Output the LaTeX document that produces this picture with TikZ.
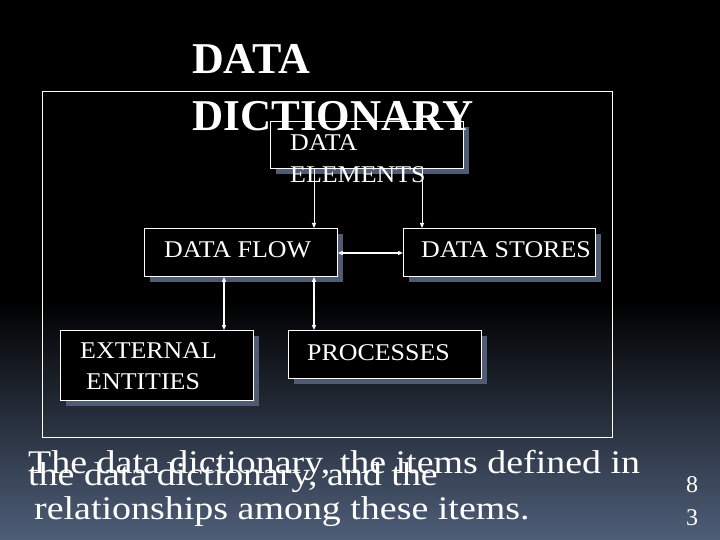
\documentclass[tikz,border=0pt]{standalone}
\usepackage{fontspec}
\setmainfont{Liberation Serif}
\usetikzlibrary{arrows.meta}
\definecolor{bgb}{RGB}{78,94,120}
\definecolor{shad}{RGB}{80,92,115}
\begin{document}
\begin{tikzpicture}[x=1pt,y=-1pt,
  box/.style={draw=white,line width=0.8pt,fill=black,minimum width=192pt,inner sep=0pt},
  lbl/.style={text=white,anchor=base west,inner sep=0pt},
  arr/.style={draw=white,line width=0.8pt,-{Triangle[width=4pt,length=5pt]}},
  darr/.style={draw=white,line width=1.2pt,{Triangle[width=4pt,length=5pt]}-{Triangle[width=4pt,length=5pt]}}]
\useasboundingbox (0,0) rectangle (720,540);
\fill[black] (0,0) rectangle (720,300);
\shade[top color=black,bottom color=bgb] (0,299.5) rectangle (720,540);
\draw[white,line width=0.6pt] (42,91) rectangle (612,437);
% shadows
\foreach \a/\b/\c/\d in {270/121/463/168, 144/228/337/276, 403/228/595/276, 60/330/253/400, 288/330/481/378}
  \fill[shad] (\a+6,\b+6) rectangle (\c+6,\d+6);
\node[box,minimum width=193pt,minimum height=47pt,anchor=north west] (el) at (270,121) {};
\node[box,minimum width=193pt,minimum height=48pt,anchor=north west] (df) at (144,228) {};
\node[box,minimum width=192pt,minimum height=48pt,anchor=north west] (ds) at (403,228) {};
\node[box,minimum width=193pt,minimum height=70pt,anchor=north west] (ee) at (60,330) {};
\node[box,minimum width=193pt,minimum height=48pt,anchor=north west] (pr) at (288,330) {};
% title
\node[lbl,font=\bfseries\fontsize{44}{44}\selectfont] (t1) at (192,74) {DATA};
\node[lbl,font=\bfseries\fontsize{44}{44}\selectfont] (t2) at (192,131) {\scalebox{0.98}[1]{DICTIONARY}};
% labels
\node[lbl,font=\fontsize{24}{24}\selectfont] (l1) at (290,151) {\scalebox{1.08}[1]{DATA}};
\node[lbl,font=\fontsize{24}{24}\selectfont] (l2) at (290,183) {\scalebox{1.08}[1]{ELEMENTS}};
\node[lbl,font=\fontsize{24}{24}\selectfont] (l3) at (164,258) {\scalebox{1.08}[1]{DATA FLOW}};
\node[lbl,font=\fontsize{24}{24}\selectfont] (l4) at (421,258) {\scalebox{1.08}[1]{DATA STORES}};
\node[lbl,font=\fontsize{24}{24}\selectfont] (l5) at (80,358) {\scalebox{1.08}[1]{EXTERNAL}};
\node[lbl,font=\fontsize{24}{24}\selectfont] (l6) at (86,389) {\scalebox{1.08}[1]{ENTITIES}};
\node[lbl,font=\fontsize{24}{24}\selectfont] (l7) at (307,360) {\scalebox{1.08}[1]{PROCESSES}};
% arrows
\draw[arr] (el.south west -| 314,0) -- (df.north west -| 314,0);
\draw[arr] (el.south west -| 422,0) -- (ds.north west -| 422,0);
\draw[darr] (df.east |- 0,253) -- (ds.west |- 0,253);
\draw[darr] (df.south west -| 224,0) -- (ee.north west -| 224,0);
\draw[darr] (df.south west -| 314,0) -- (pr.north west -| 314,0);
% bottom text
\node[lbl,font=\fontsize{33}{33}\selectfont] (b1) at (28,473) {\scalebox{1.15}[1]{The data dictionary, the items defined in}};
\node[lbl,font=\fontsize{33}{33}\selectfont] (b2) at (28,485) {\scalebox{1.15}[1]{the data dictionary, and the}};
\node[lbl,font=\fontsize{33}{33}\selectfont] (b3) at (34,519) {\scalebox{1.15}[1]{relationships among these items.}};
\node[lbl,font=\fontsize{24}{24}\selectfont] (n1) at (686,492) {8};
\node[lbl,font=\fontsize{24}{24}\selectfont] (n2) at (686,525) {3};
\end{tikzpicture}
\end{document}
